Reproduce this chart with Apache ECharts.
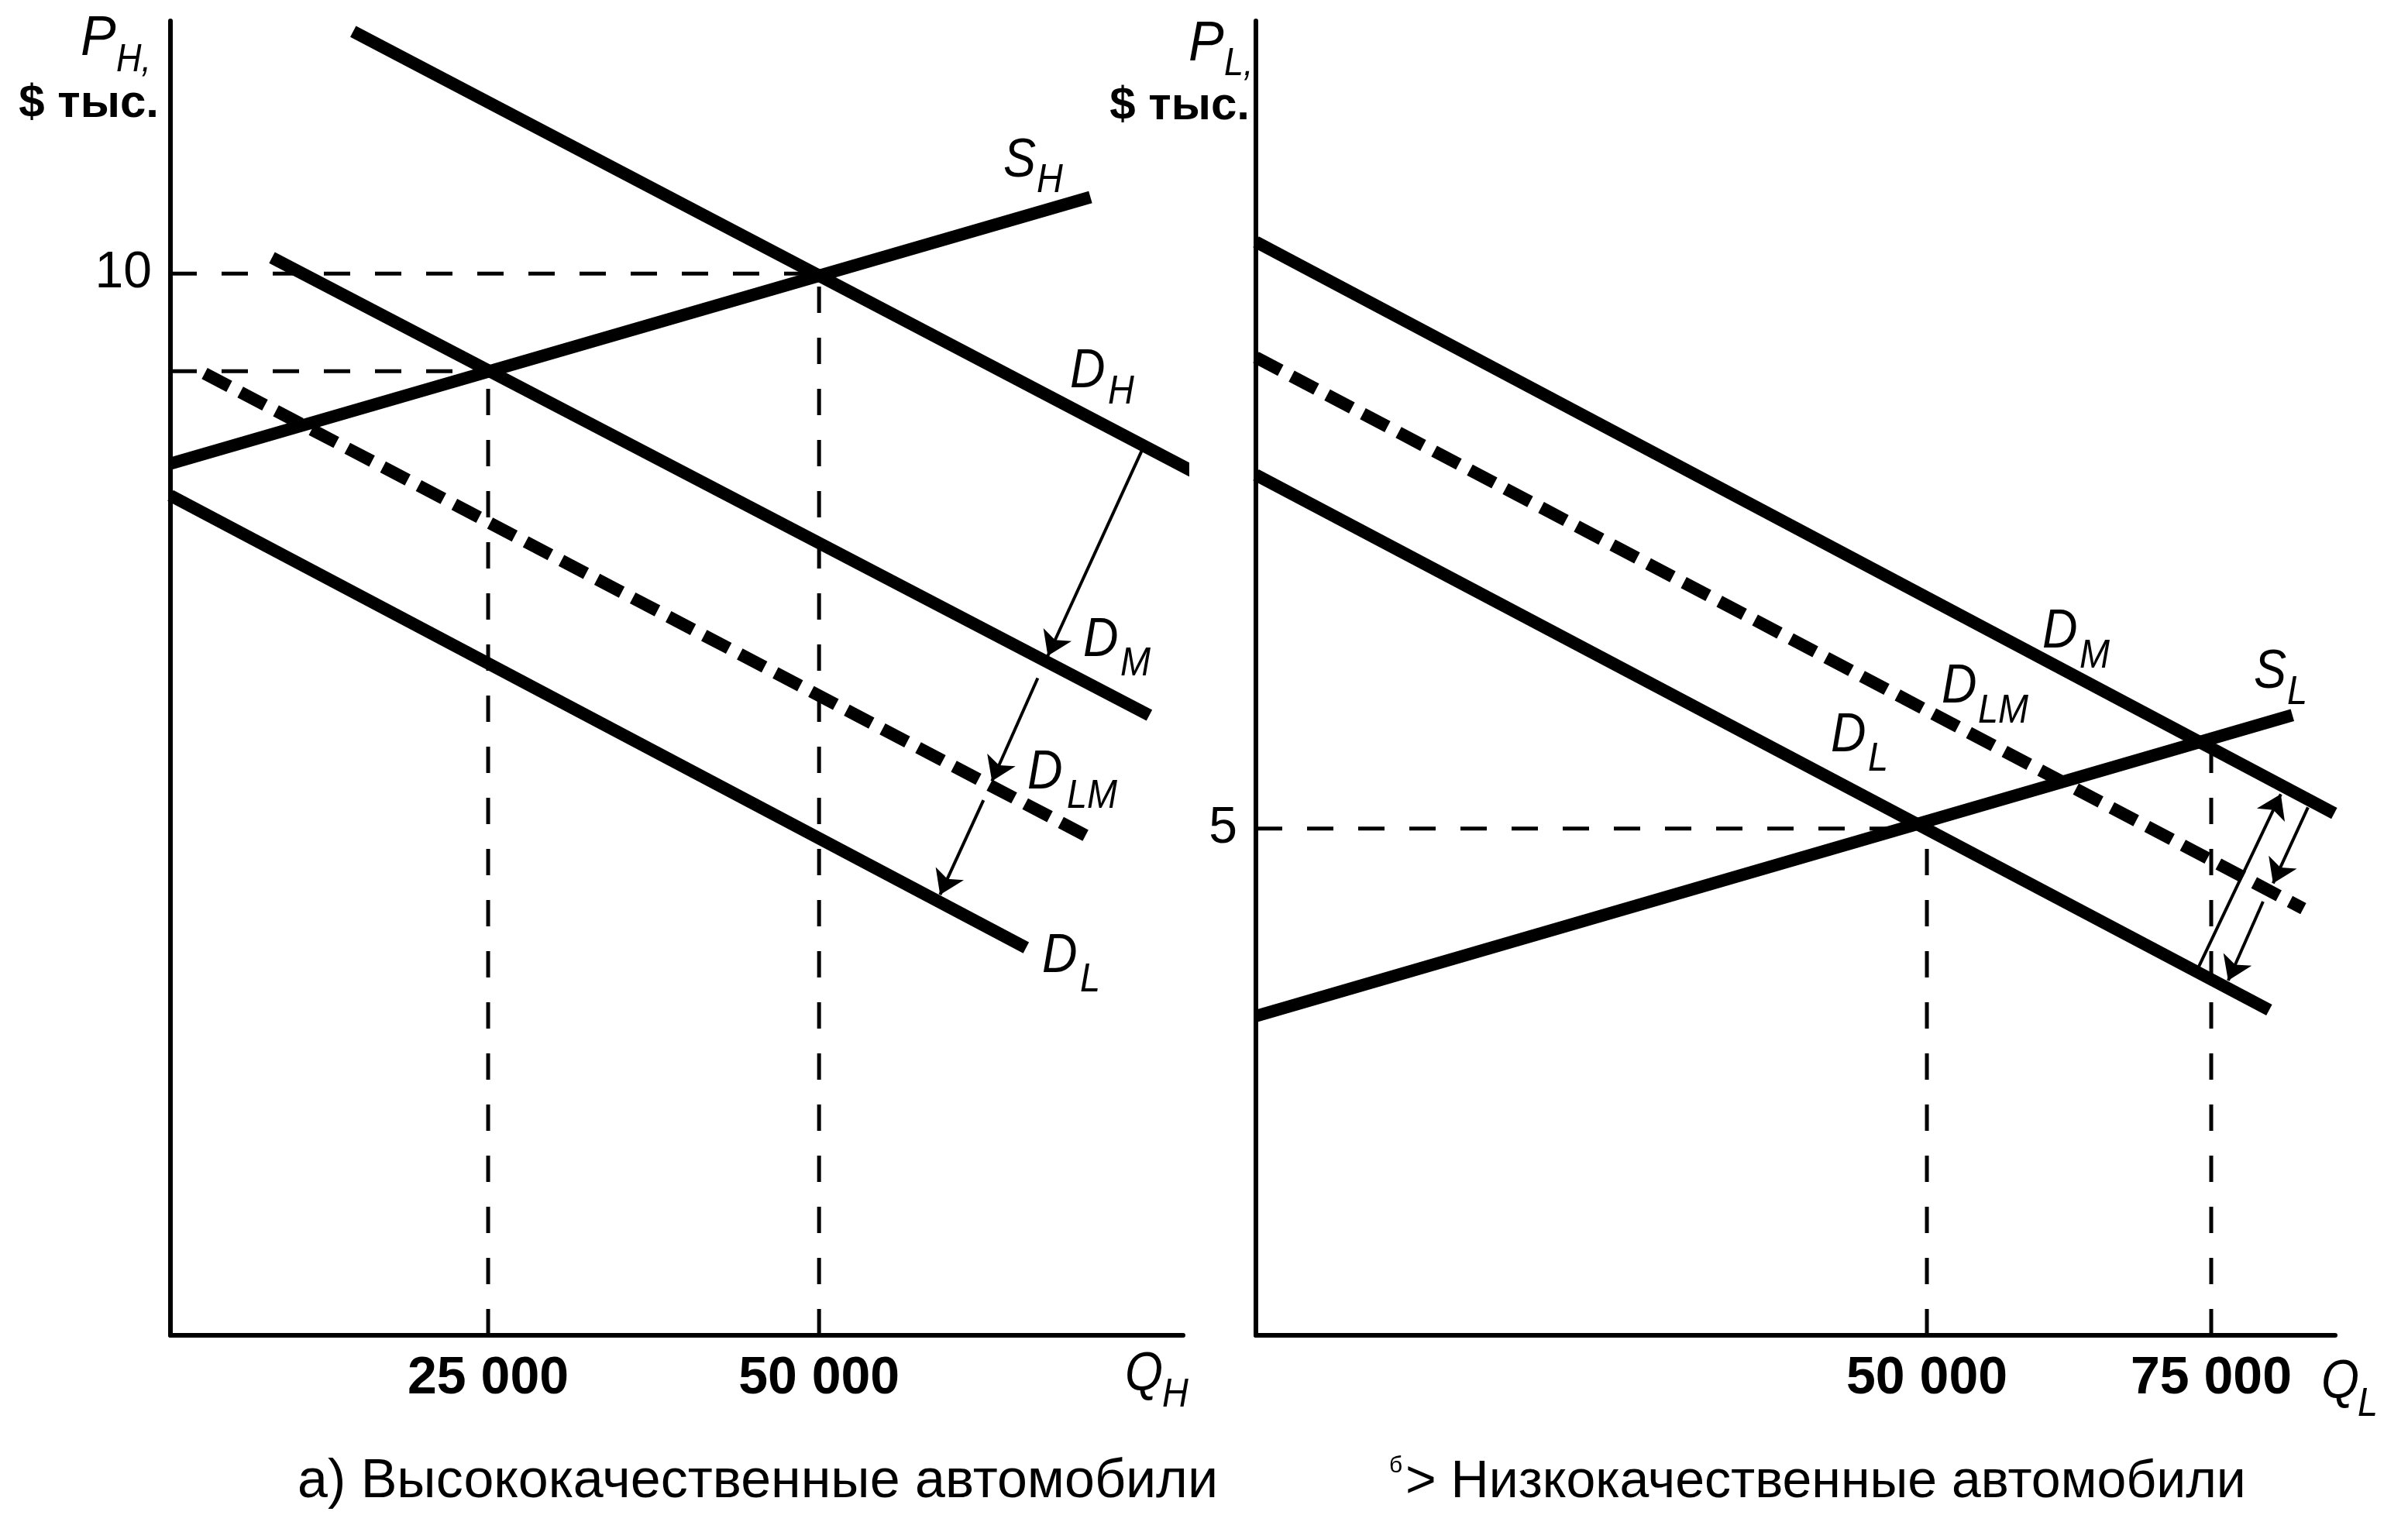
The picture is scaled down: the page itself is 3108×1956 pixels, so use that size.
<!DOCTYPE html>
<html><head><meta charset="utf-8">
<script src="https://cdn.jsdelivr.net/npm/echarts@6/dist/echarts.min.js"></script>
<style>html,body{margin:0;padding:0;background:#fff}#c{width:3108px;height:1956px}</style>
</head><body><div id="c"></div>
<script>
// ---------- data ----------
// Panel a) high quality cars
const leftQTicks = [25000, 50000];
const leftQTickLabels = ['25 000', '50 000'];
const leftPTicks = [10];
const leftDH  = [[14800, 12.28], [78170, 8.14]];
const leftSH  = [[1000, 8.21], [70500, 10.72]];
const leftDM  = [[8670, 10.15], [74950, 5.84]];
const leftDLM = [[3580, 9.06], [70260, 4.70]];
const leftDL  = [[1000, 7.91], [65640, 3.65]];
const leftEquilibria = [[25000, 9.08], [50000, 10]];
const leftShifts = [
  [[74480, 8.36], [67280, 6.40]],
  [[66520, 6.19], [63060, 5.22]],
  [[62420, 5.04], [59140, 4.15]]
];
// Panel б) low quality cars
const rightQTicks = [50000, 75000];
const rightQTickLabels = ['50 000', '75 000'];
const rightPTicks = [5];
const rightDM  = [[-9000, 10.79], [85820, 5.15]];
const rightDLM = [[-9000, 9.65], [83100, 4.21]];
const rightDL  = [[-9000, 8.49], [80100, 3.21]];
const rightSL  = [[-9000, 3.15], [82140, 6.12]];
const rightEquilibria = [[50000, 5], [75000, 5.87]];
const rightHGuides = [[50000, 5]];
const rightShifts = [
  [[73830, 3.62], [81120, 5.34]],
  [[83510, 5.21], [80440, 4.46]],
  [[79560, 4.28], [76490, 3.50]]
];
// axis ranges
const leftQRange = [1000, 77500], leftPRange = [0, 12.38];
const rightQRange = [-9000, 85900], rightPRange = [0, 12.97];

// ---------- chart ----------
const FONT = 'Liberation Sans, Arial, sans-serif';
const chart = echarts.init(document.getElementById('c'), null, {renderer: 'canvas'});

function xAxisOpt(idx, range, ticks, labels) {
  return {
    type: 'value', gridIndex: idx, min: range[0], max: range[1],
    axisLine: {show: true, onZero: false, lineStyle: {color: '#000', width: 6}},
    axisTick: {show: false}, splitLine: {show: false},
    axisLabel: {
      show: true, customValues: ticks, margin: 22, color: '#000',
      fontSize: 68, fontWeight: 'bold', fontFamily: FONT,
      formatter: v => { const i = ticks.indexOf(v); return i >= 0 ? labels[i] : ''; }
    }
  };
}
function yAxisOpt(idx, range, ticks) {
  return {
    type: 'value', gridIndex: idx, min: range[0], max: range[1],
    axisLine: {show: true, onZero: false, lineStyle: {color: '#000', width: 6}},
    axisTick: {show: false}, splitLine: {show: false},
    axisLabel: {
      show: true, customValues: ticks, margin: 24, color: '#000',
      fontSize: 66, fontFamily: FONT,
      formatter: v => ticks.indexOf(v) >= 0 ? String(v) : ''
    }
  };
}
function curve(data, ai, dashed) {
  return {
    type: 'line', xAxisIndex: ai, yAxisIndex: ai, data: data, symbol: 'none',
    clip: false, silent: true, animation: false, z: 3,
    lineStyle: {color: '#000', width: 16, type: dashed ? [36, 16] : 'solid', cap: 'butt'}
  };
}
function guide(data, ai) {
  return {
    type: 'line', xAxisIndex: ai, yAxisIndex: ai, data: data, symbol: 'none',
    silent: true, animation: false, z: 2,
    lineStyle: {color: '#000', width: 5, type: [34, 32]}
  };
}
function arrows(list, ai) {
  return {
    type: 'lines', coordinateSystem: 'cartesian2d', xAxisIndex: ai, yAxisIndex: ai,
    symbol: ['none', 'arrow'], symbolSize: 30, silent: true, animation: false, z: 4,
    lineStyle: {color: '#000', width: 4, opacity: 1, curveness: 0},
    data: list.map(s => ({coords: s}))
  };
}

const series = [];
leftEquilibria.forEach(e => {
  series.push(guide([[e[0], leftPRange[0]], e], 0));
  series.push(guide([[leftQRange[0], e[1]], e], 0));
});
rightEquilibria.forEach(e => series.push(guide([[e[0], rightPRange[0]], e], 1)));
rightHGuides.forEach(e => series.push(guide([[rightQRange[0], e[1]], e], 1)));
series.push(curve(leftDH, 0), curve(leftSH, 0), curve(leftDM, 0), curve(leftDLM, 0, true), curve(leftDL, 0));
series.push(curve(rightDM, 1), curve(rightDLM, 1, true), curve(rightDL, 1), curve(rightSL, 1));
series.push(arrows(leftShifts, 0), arrows(rightShifts, 1));

// text labels (pixel layout)
const graphics = [];
function txt(x, base, s, size, o) {
  o = o || {};
  graphics.push({
    type: 'text', x: x, y: base - 0.35 * size, scaleX: o.sx || 1, silent: true,
    style: {text: s, fontSize: size, fontFamily: FONT, fontStyle: o.it ? 'italic' : 'normal',
            fontWeight: o.bold ? 'bold' : 'normal', fill: '#000',
            align: o.align || 'left', verticalAlign: 'middle'}
  });
}
function sym(x, base, main, sub, sx, sb) {
  txt(x, base, main, 70, {it: true, sx: 0.9});
  txt(sx, sb, sub, 52, {it: true, sx: 0.9});
}
// axis titles
txt(104, 76, 'P', 72, {it: true, sx: 0.95});
txt(150, 96, 'H,', 50, {it: true, sx: 0.9});
txt(205, 155, '$ тыс.', 60, {bold: true, align: 'right'});
txt(1534, 83, 'P', 72, {it: true, sx: 0.95});
txt(1580, 101, 'L,', 50, {it: true, sx: 0.9});
txt(1613, 158, '$ тыс.', 60, {bold: true, align: 'right'});
sym(1452, 1800, 'Q', 'H', 1500, 1820);
sym(2996, 1810, 'Q', 'L', 3043, 1832);
// curve labels panel a
sym(1295, 233, 'S', 'H', 1338, 252);
sym(1381, 505, 'D', 'H', 1430, 525);
sym(1398, 852, 'D', 'M', 1446, 876);
sym(1326, 1023, 'D', 'LM', 1377, 1047);
sym(1345, 1260, 'D', 'L', 1394, 1284);
// curve labels panel б
sym(2636, 841, 'D', 'M', 2684, 866);
sym(2506, 912, 'D', 'LM', 2553, 937);
sym(2363, 975, 'D', 'L', 2411, 999);
sym(2909, 893, 'S', 'L', 2952, 913);
// captions
txt(978, 1938, 'а) Высококачественные автомобили', 70, {align: 'center'});
txt(1793, 1903, 'б', 30, {});
txt(1814, 1938, '> Низкокачественные автомобили', 68, {});

chart.setOption({
  backgroundColor: '#fff',
  animation: false,
  grid: [
    {left: 220, top: 27, width: 1307, height: 1697, outerBoundsMode: 'none', containLabel: false},
    {left: 1621, top: 27, width: 1393, height: 1697, outerBoundsMode: 'none', containLabel: false}
  ],
  xAxis: [xAxisOpt(0, leftQRange, leftQTicks, leftQTickLabels), xAxisOpt(1, rightQRange, rightQTicks, rightQTickLabels)],
  yAxis: [yAxisOpt(0, leftPRange, leftPTicks), yAxisOpt(1, rightPRange, rightPTicks)],
  series: series,
  graphic: graphics
});
</script></body></html>
